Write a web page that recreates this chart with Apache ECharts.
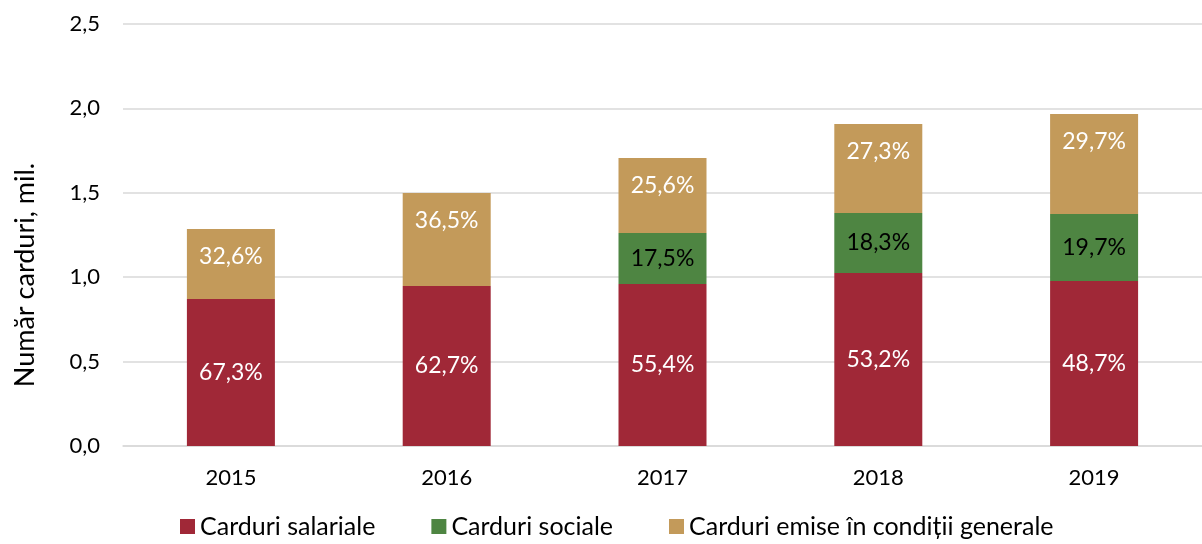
<!DOCTYPE html>
<html>
<head>
    <meta charset="utf-8">
    <title>Carduri</title>
    <script type="text/javascript" src="https://cdn.jsdelivr.net/npm/echarts@6/dist/echarts.min.js"></script>
    <style>
        html, body { margin: 0; padding: 0; background: #fff; }
        #main { width: 1202px; height: 544px; }
    </style>
</head>
<body>
	<div id="main"></div>
	<script type="text/javascript">
	var years = ['2015', '2016', '2017', '2018', '2019'];
	var salariale = [0.871, 0.948, 0.960, 1.025, 0.977];
	var sociale = [0, 0, 0.302, 0.355, 0.397];
	var generale = [0.415, 0.551, 0.444, 0.528, 0.593];
	var salarialePct = ['67,3%', '62,7%', '55,4%', '53,2%', '48,7%'];
	var socialePct = ['', '', '17,5%', '18,3%', '19,7%'];
	var generalePct = ['32,6%', '36,5%', '25,6%', '27,3%', '29,7%'];
	var yTicks = ['0,0', '0,5', '1,0', '1,5', '2,0', '2,5'];

	var font = 'Lato';
	var myChart = echarts.init(document.getElementById('main'));

	function labelFrom(arr, color, pos, dist) {
		return {
			show: true,
			position: pos,
			distance: dist,
			color: color,
			fontFamily: font,
			fontSize: 23,
			formatter: function (p) { return arr[p.dataIndex]; }
		};
	}

	var option = {
		animation: false,
		textStyle: {fontFamily: font},
		grid: {left: 123, right: 0, top: 24, bottom: 98},
		legend: {
			bottom: 0,
			left: 175,
			itemWidth: 15,
			itemHeight: 15,
			itemGap: 56,
			icon: 'rect',
			textStyle: {fontFamily: font, fontSize: 25, color: '#000'},
			data: ['Carduri salariale', 'Carduri sociale', 'Carduri emise în condiții generale']
		},
		xAxis: {
			type: 'category',
			data: years,
			axisTick: {show: false},
			axisLine: {lineStyle: {color: '#d9d9d9', width: 1.5}},
			axisLabel: {color: '#000', fontSize: 22, margin: 21, fontFamily: font}
		},
		yAxis: {
			type: 'value',
			min: 0,
			max: 2.5,
			interval: 0.5,
			name: 'Număr carduri, mil.',
			nameLocation: 'middle',
			nameGap: 84,
			nameTextStyle: {fontSize: 27, color: '#000', fontFamily: font, padding: [0, 80, 0, 0]},
			axisLabel: {
				color: '#000', fontSize: 22, margin: 23, fontFamily: font,
				formatter: function (v) { return yTicks[Math.round(v / 0.5)]; }
			},
			splitLine: {lineStyle: {color: '#d9d9d9', width: 1.5}}
		},
		series: [
			{
				name: 'Carduri salariale',
				type: 'bar',
				stack: 'total',
				barWidth: 88,
				data: salariale,
				itemStyle: {color: '#a02837'},
				label: labelFrom(salarialePct, '#fff', 'inside', 5)
			},
			{
				name: 'Carduri sociale',
				type: 'bar',
				stack: 'total',
				barWidth: 88,
				data: sociale.map(function (v) { return v === 0 ? '-' : v; }),
				itemStyle: {color: '#4e8542'},
				label: labelFrom(socialePct, '#000', 'inside', 5)
			},
			{
				name: 'Carduri emise în condiții generale',
				type: 'bar',
				stack: 'total',
				barWidth: 88,
				data: generale,
				itemStyle: {color: '#c39a5a'},
				label: labelFrom(generalePct, '#fff', 'insideTop', 16)
			}
		]
	};
	myChart.setOption(option);
	</script>
</body>
</html>
